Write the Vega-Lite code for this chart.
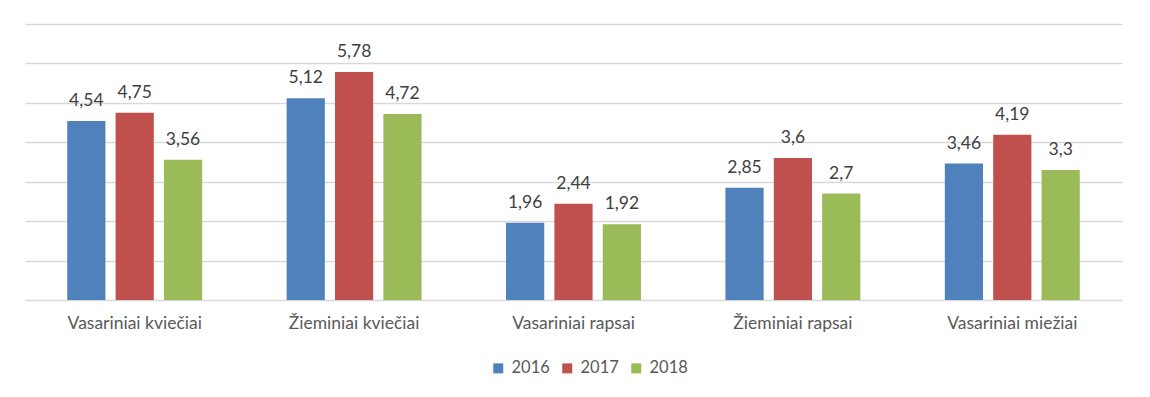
{
  "$schema": "https://vega.github.io/schema/vega-lite/v6.json",
  "width": 1097,
  "height": 276,
  "autosize": {"type": "none"},
  "padding": {"left": 25, "top": 24, "right": 28, "bottom": 97},
  "background": "white",
  "config": {
    "locale": {"number": {"decimal": ",", "thousands": " ", "grouping": [3], "currency": ["", " €"]}},
    "view": {"stroke": null},
    "font": "Lato"
  },
  "data": {
    "values": [
      {"crop": "Vasariniai kviečiai", "year": "2016", "value": 4.54},
      {"crop": "Vasariniai kviečiai", "year": "2017", "value": 4.75},
      {"crop": "Vasariniai kviečiai", "year": "2018", "value": 3.56},
      {"crop": "Žieminiai kviečiai", "year": "2016", "value": 5.12},
      {"crop": "Žieminiai kviečiai", "year": "2017", "value": 5.78},
      {"crop": "Žieminiai kviečiai", "year": "2018", "value": 4.72},
      {"crop": "Vasariniai rapsai", "year": "2016", "value": 1.96},
      {"crop": "Vasariniai rapsai", "year": "2017", "value": 2.44},
      {"crop": "Vasariniai rapsai", "year": "2018", "value": 1.92},
      {"crop": "Žieminiai rapsai", "year": "2016", "value": 2.85},
      {"crop": "Žieminiai rapsai", "year": "2017", "value": 3.6},
      {"crop": "Žieminiai rapsai", "year": "2018", "value": 2.7},
      {"crop": "Vasariniai miežiai", "year": "2016", "value": 3.46},
      {"crop": "Vasariniai miežiai", "year": "2017", "value": 4.19},
      {"crop": "Vasariniai miežiai", "year": "2018", "value": 3.3}
    ]
  },
  "encoding": {
    "x": {
      "field": "crop", "type": "nominal", "sort": null,
      "scale": {"paddingInner": 0.385, "paddingOuter": 0.1925},
      "axis": {"title": null, "labelAngle": 0, "domain": false, "ticks": false, "labelFontSize": 17.5, "labelColor": "#595959", "labelPadding": 14, "labelFont": "Lato"}
    },
    "xOffset": {
      "field": "year", "type": "nominal", "sort": ["2016", "2017", "2018"],
      "scale": {"paddingInner": 0.21, "paddingOuter": 0}
    },
    "y": {
      "field": "value", "type": "quantitative",
      "scale": {"domain": [0, 7], "nice": false},
      "axis": {"title": null, "labels": false, "ticks": false, "domain": false, "values": [0, 1, 2, 3, 4, 5, 6, 7], "gridColor": "#d9d9d9", "gridWidth": 1.3}
    }
  },
  "layer": [
    {
      "mark": {"type": "bar"},
      "encoding": {
        "color": {
          "field": "year", "type": "nominal",
          "scale": {"domain": ["2016", "2017", "2018"], "range": ["#4f81bd", "#c0504d", "#9bbb59"]},
          "legend": {"title": null, "orient": "none", "legendX": 465, "legendY": 336, "direction": "horizontal", "symbolType": "square", "symbolSize": 100, "symbolStrokeWidth": 0, "labelFontSize": 16.5, "labelColor": "#595959", "labelFont": "Lato", "columnPadding": 9, "labelOffset": 5}
        }
      }
    },
    {
      "mark": {"type": "text", "baseline": "alphabetic", "dy": -15, "fontSize": 17.5, "color": "#404040", "font": "Lato"},
      "encoding": {"text": {"field": "value", "type": "quantitative", "format": "~g"}}
    }
  ]
}
